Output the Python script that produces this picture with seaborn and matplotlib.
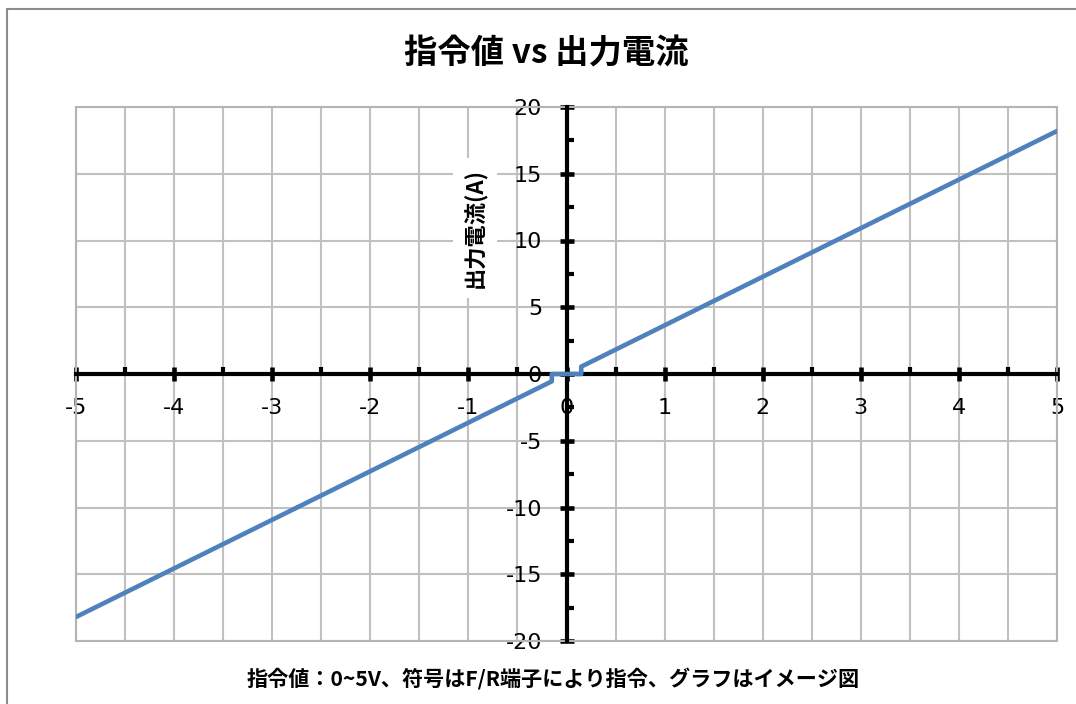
import matplotlib
matplotlib.use("Agg")
import matplotlib.pyplot as plt
from matplotlib.patches import Rectangle
from matplotlib.ticker import MultipleLocator, FuncFormatter
import seaborn as sns
import pandas as pd

# Command voltage (V) vs output current (A); dead band around zero
command_v = [-5.0, -0.15, -0.15, 0.15, 0.15, 5.0]
current_a = [-18.2, -0.55, 0.0, 0.0, 0.55, 18.2]

title = "指令値 vs 出力電流"
x_label = "指令値：0~5V、符号はF/R端子により指令、グラフはイメージ図"
y_label = "出力電流(A)"

sns.set_style("white")
plt.rcParams["font.family"] = ["DejaVu Sans", "Noto Sans CJK JP"]
plt.rcParams["text.color"] = "black"
cjk = ["Noto Sans CJK JP", "DejaVu Sans"]

W, H = 1076, 704
fig = plt.figure(figsize=(W / 100, H / 100), dpi=100)
ax = fig.add_axes([76 / W, 1 - 641 / H, (1057 - 76) / W, (641 - 107) / H])

df = pd.DataFrame({"v": command_v, "a": current_a})
sns.lineplot(data=df, x="v", y="a", sort=False, estimator=None, ax=ax,
             color="#4F81BD", linewidth=3.3, zorder=4)

ax.set_xlim(-5, 5)
ax.set_ylim(-20, 20)
ax.xaxis.set_major_locator(MultipleLocator(1))
ax.xaxis.set_minor_locator(MultipleLocator(0.5))
ax.yaxis.set_major_locator(MultipleLocator(5))
ax.yaxis.set_minor_locator(MultipleLocator(2.5))

# gridlines: every 0.5 V vertically, every 5 A horizontally
ax.grid(False)
ax.xaxis.grid(True, which="both", color="#C0C0C0", linewidth=1.5)
ax.yaxis.grid(True, which="major", color="#C0C0C0", linewidth=1.5)
ax.set_axisbelow(True)

# axes crossing at the origin
for side in ("top", "right"):
    ax.spines[side].set_visible(False)
for side in ("left", "bottom"):
    ax.spines[side].set_position("zero")
    ax.spines[side].set_color("black")
    ax.spines[side].set_linewidth(3.0)
    ax.spines[side].set_zorder(3)

ax.tick_params(which="both", bottom=True, left=True, top=False, right=False)
ax.tick_params(which="major", direction="inout", length=10, width=3.3, color="black",
               labelsize=16, labelcolor="black", pad=12.5)
ax.tick_params(which="minor", direction="in", length=5, width=3, color="black")

ax.xaxis.set_major_formatter(FuncFormatter(lambda v, p: f"{v:g}"))
ax.yaxis.set_major_formatter(FuncFormatter(lambda v, p: f"{v:g}"))

# plot-area frame
ax.add_patch(Rectangle((0, 0), 1, 1, transform=ax.transAxes, fill=False,
                       edgecolor="#B4B4B4", linewidth=1.5, zorder=1, clip_on=False))

ax.set_xlabel(x_label, fontsize=15.2, fontweight="bold", family=cjk, color="black")
ax.xaxis.set_label_coords((553 - 76) / 981, (641 - 679) / 534)
ax.xaxis.label.set_va("center")

ax.set_ylabel(y_label, fontsize=16, fontweight="bold", family=cjk, color="black",
              bbox=dict(boxstyle="square,pad=0.45", facecolor="white", edgecolor="none"))
ax.yaxis.set_label_coords((475 - 76) / 981, (641 - 228) / 534)
ax.yaxis.label.set_va("center")
ax.yaxis.label.set_zorder(3)

fig.suptitle(title, x=546 / W, y=1 - 54 / H, va="center", fontsize=24,
             fontweight="bold", family=cjk, color="black")

# chart-area border
fig.patches.append(Rectangle((7 / W, -0.1), 1.2, 1 - 9 / H + 0.1, transform=fig.transFigure,
                             fill=False, edgecolor="#8C8C8C", linewidth=1.5, zorder=0))

fig.savefig("out.png", dpi=100, facecolor="white")
